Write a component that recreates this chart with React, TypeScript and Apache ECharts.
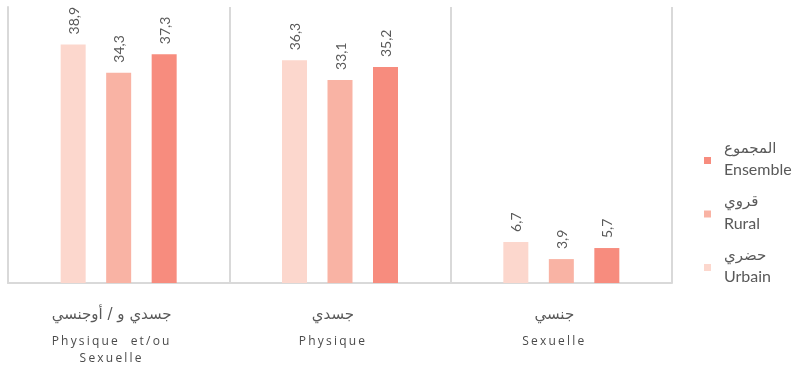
import React, { useEffect, useRef } from "react";
import * as echarts from "echarts";

const categoriesAr = ["جسدي و / أوجنسي", "جسدي", "جنسي"];
const categoriesFr = ["Physique  et/ou\nSexuelle", "Physique", "Sexuelle"];
const seriesNamesFr = ["Urbain", "Rural", "Ensemble"];
const seriesNamesAr = ["حضري", "قروي", "المجموع"];
const urbain = [38.9, 36.3, 6.7];
const rural = [34.3, 33.1, 3.9];
const ensemble = [37.3, 35.2, 5.7];
const colors = ["#FCD7CD", "#F9B3A4", "#F78C7E"];

export default function App() {
  const ref = useRef<HTMLDivElement>(null);
  useEffect(() => {
    if (!ref.current) return;
    const chart = echarts.init(ref.current, undefined, { renderer: "svg" });
    const values = [urbain, rural, ensemble];
    const series = seriesNamesFr.map((name, i) => ({
      name,
      type: "bar",
      data: values[i],
      barWidth: 25,
      barGap: "82%",
      itemStyle: { color: colors[i] },
      label: {
        show: true,
        position: "top",
        rotate: 90,
        distance: 10,
        align: "left",
        verticalAlign: "middle",
        color: "#595959",
        fontSize: 14,
        fontFamily: "Lato",
        formatter: (p: any) => String(p.value).replace(".", ","),
      },
    }));
    chart.setOption({
      animation: false,
      grid: { left: 8, right: 122, top: 7, bottom: 84 },
      xAxis: {
        type: "category",
        data: categoriesAr.map((_, i) => i),
        axisLine: { show: true, lineStyle: { color: "#D9D9D9", width: 2 } },
        axisTick: { show: false },
        splitLine: { show: true, lineStyle: { color: "#D9D9D9", width: 2 } },
        axisLabel: {
          margin: 12,
          interval: 0,
          formatter: (v: any) => {
            const i = Number(v);
            const fr = categoriesFr[i]
              .split("\n")
              .map((s) => "{fr|" + s + "}")
              .join("\n");
            return "{ar|" + categoriesAr[i] + "}\n" + fr;
          },
          rich: {
            ar: { fontSize: 15, lineHeight: 37, color: "#595959", fontFamily: "DejaVu Sans", padding: [0, 14, 0, 0] },
            fr: { fontSize: 12, lineHeight: 17, color: "#4a4a4a", fontFamily: "Open Sans", padding: [0, 14, 0, 0] },
          },
        },
      },
      yAxis: {
        type: "value",
        min: 0,
        max: 45,
        axisLine: { show: true, lineStyle: { color: "#D9D9D9", width: 2 } },
        axisTick: { show: false },
        axisLabel: { show: false },
        splitLine: { show: false },
      },
      legend: {
        orient: "vertical",
        left: 699,
        top: 135,
        itemWidth: 7,
        itemHeight: 7,
        itemGap: 17,
        icon: "rect",
        data: ["Ensemble", "Rural", "Urbain"],
        formatter: (name: string) => {
          const i = seriesNamesFr.indexOf(name);
          return "{ar|" + seriesNamesAr[i] + "}\n{fr|" + name + "}";
        },
        textStyle: {
          rich: {
            ar: { fontSize: 15, lineHeight: 16, color: "#595959", fontFamily: "DejaVu Sans", padding: [0, 0, 0, 8] },
            fr: { fontSize: 16, lineHeight: 26, color: "#595959", fontFamily: "Lato", padding: [0, 0, 0, 8] },
          },
        },
      },
      series,
    });
    return () => chart.dispose();
  }, []);
  return (
    <>
      <style>{`text[style*="Open Sans"]{letter-spacing:2.2px}`}</style>
      <div
        ref={ref}
        style={{ width: 794, height: 367, position: "fixed", left: 0, top: 0 }}
      />
    </>
  );
}
